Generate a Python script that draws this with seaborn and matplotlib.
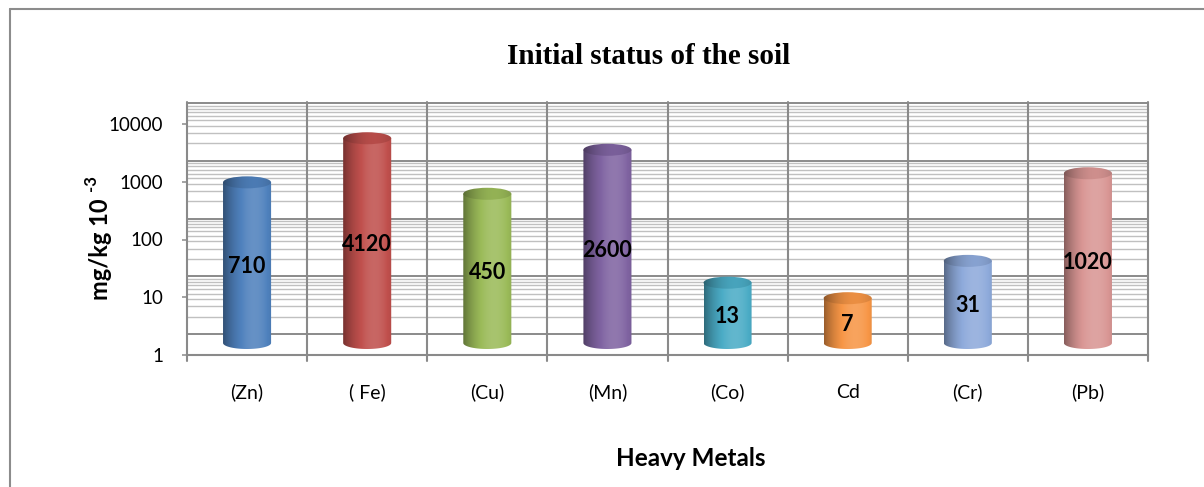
import numpy as np
import pandas as pd
import matplotlib
matplotlib.use("Agg")
import matplotlib.pyplot as plt
import seaborn as sns
from matplotlib.path import Path
from matplotlib.patches import PathPatch, Ellipse
from matplotlib.image import BboxImage
from matplotlib.transforms import Bbox, Affine2D, IdentityTransform
from matplotlib.lines import Line2D
import matplotlib.colors as mcolors

# ---------------- data ----------------
metals = ["(Zn)", "( Fe)", "(Cu)", "(Mn)", "(Co)", "Cd", "(Cr)", "(Pb)"]
values = [710, 4120, 450, 2600, 13, 7, 31, 1020]
bar_colors = ["#4F81BD", "#C0504D", "#9BBB59", "#8064A2",
              "#4BACC6", "#F79646", "#8EAADB", "#D99694"]
y_ticks = [1, 10, 100, 1000, 10000]
y_tick_labels = ["1", "10", "100", "1000", "10000"]
title = "Initial status of the soil"
x_title = "Heavy Metals"
y_title = "mg/kg 10"
y_title_sup = "-3"

# ---------------- style ----------------
sns.set_theme(style="white")
plt.rcParams['font.family'] = ['Lato', 'DejaVu Sans']
plt.rcParams['text.color'] = 'black'

W, H = 1204, 487
fig = plt.figure(figsize=(W / 100, H / 100), dpi=100)
fig.patch.set_facecolor("white")


def rect_px(x0, y0, x1, y1):
    return [x0 / W, 1 - y1 / H, (x1 - x0) / W, (y1 - y0) / H]


ax = fig.add_axes(rect_px(187, 124, 1148, 355))
ax.set_facecolor("none")

df = pd.DataFrame({"metal": metals, "value": values})
sns.barplot(data=df, x="metal", y="value", hue="metal", palette=bar_colors,
            width=0.4, legend=False, ax=ax, saturation=1)
ax.set_yscale("log")
ax.set_ylim(1, 10000)
ax.set_xlim(-0.5, len(metals) - 0.5)

bars = list(ax.patches)
for p in bars:
    p.set_visible(False)

GRID_DARK = "#8a8a8a"
GRID_LIGHT = "#c0c0c0"

# back-wall gridlines (shifted upward as in a 3-D chart)
wall = ax.get_yaxis_transform() + Affine2D().translate(0, 21)
for d in range(5):
    base = 10 ** d
    ax.plot([0, 1], [base, base], transform=wall, color=GRID_DARK, lw=1.4,
            clip_on=False, zorder=0.6)
    if d < 4:
        for m in range(2, 10):
            ax.plot([0, 1], [m * base, m * base], transform=wall,
                    color=GRID_LIGHT, lw=1.0, clip_on=False, zorder=0.5)

# category separators / walls
xtr = ax.get_xaxis_transform()
axh = 231.0
for b in np.arange(-0.5, len(metals)):
    ax.plot([b, b], [-6 / axh, 1 + 22 / axh], transform=xtr, color=GRID_DARK,
            lw=1.5, clip_on=False, zorder=0.7)

for s in ["top", "right", "left"]:
    ax.spines[s].set_visible(False)
ax.spines["bottom"].set_color(GRID_DARK)
ax.spines["bottom"].set_linewidth(1.5)

ax.set_yticks(y_ticks, labels=y_tick_labels)
ax.yaxis.set_minor_locator(matplotlib.ticker.NullLocator())
ax.tick_params(axis="y", which="major", length=3.6, width=1.1, color=GRID_DARK,
               pad=13.5, labelsize=13.5, labelcolor="black", direction="out", left=True)
ax.set_xticks(range(len(metals)), labels=metals)
ax.tick_params(axis="x", length=0, pad=31, labelsize=14, labelcolor="black")
for lab in ax.get_xticklabels():
    lab.set_verticalalignment("baseline")
ax.set_xlabel("")
ax.set_ylabel("")
ax.grid(False)


def shade(c, factor):
    rgb = np.array(mcolors.to_rgb(c))
    out = np.empty((len(factor), 3))
    for k, f in enumerate(factor):
        if f <= 1:
            out[k] = rgb * f
        else:
            out[k] = rgb + (1 - rgb) * (f - 1) * 1.6
    return np.clip(out, 0, 1)


t = np.linspace(0, 1, 200)
prof = 0.62 + 0.46 * (1 - ((t - 0.64) / 0.64) ** 2)

EH = 12.0
for i, (p, v, c) in enumerate(zip(bars, values, bar_colors)):
    x0 = p.get_x()
    x1 = x0 + p.get_width()
    xl, y1px = ax.transData.transform((x0, 1))
    xr, ytpx = ax.transData.transform((x1, v))
    yb = y1px + 12
    yt = ytpx + 8
    cx = (xl + xr) / 2
    ew = xr - xl
    th = np.linspace(np.pi, 2 * np.pi, 40)
    verts = [(xl, yt), (xl, yb)]
    verts += [(cx + ew / 2 * np.cos(a), yb + EH / 2 * np.sin(a)) for a in th]
    verts += [(xr, yt), (xl, yt)]
    codes = [Path.MOVETO] + [Path.LINETO] * (len(verts) - 2) + [Path.CLOSEPOLY]
    body = PathPatch(Path(verts, codes), transform=IdentityTransform())

    grad = shade(c, prof)[None, :, :].repeat(2, axis=0)
    im = BboxImage(Bbox.from_extents(xl, yb - EH / 2 - 1, xr, yt + 1),
                   interpolation="bilinear", zorder=2)
    im.set_data(grad)
    im.set_clip_path(body)
    ax.add_artist(im)

    top = Ellipse((cx, yt), ew, EH, transform=IdentityTransform())
    grad2 = shade(c, prof * 0.88)[None, :, :].repeat(2, axis=0)
    im2 = BboxImage(Bbox.from_extents(xl - 1, yt - EH / 2 - 1, xr + 1, yt + EH / 2 + 1),
                    interpolation="bilinear", zorder=2.1)
    im2.set_data(grad2)
    im2.set_clip_path(top)
    ax.add_artist(im2)

    ax.text(i, np.sqrt(v), str(v),
            transform=ax.transData + Affine2D().translate(0, 6),
            ha="center", va="center", fontsize=15.5, fontweight="bold",
            color="black", zorder=5)

# outer chart border (top and left only visible)
fig.add_artist(Line2D([10 / W, 1.0], [1 - 9 / H, 1 - 9 / H],
                      transform=fig.transFigure, color="#8c8c8c", lw=1.5))
fig.add_artist(Line2D([10 / W, 10 / W], [0, 1 - 9 / H],
                      transform=fig.transFigure, color="#8c8c8c", lw=1.5))

fig.text(649 / W, 1 - 57 / H, title, family=["Liberation Serif", "DejaVu Serif"],
         fontweight="bold", fontsize=21, ha="center", va="center", color="black")
fig.text(691 / W, 1 - 458 / H, x_title, fontweight="bold", fontsize=17.5,
         ha="center", va="center", color="black")
fig.text(101 / W, 1 - 249 / H, y_title, fontweight="bold", fontsize=17,
         rotation=90, ha="center", va="center", color="black")
fig.text(91 / W, 1 - 183 / H, y_title_sup, fontweight="bold", fontsize=12,
         rotation=90, ha="center", va="center", color="black")

fig.savefig("out.png", dpi=100, facecolor="white")
